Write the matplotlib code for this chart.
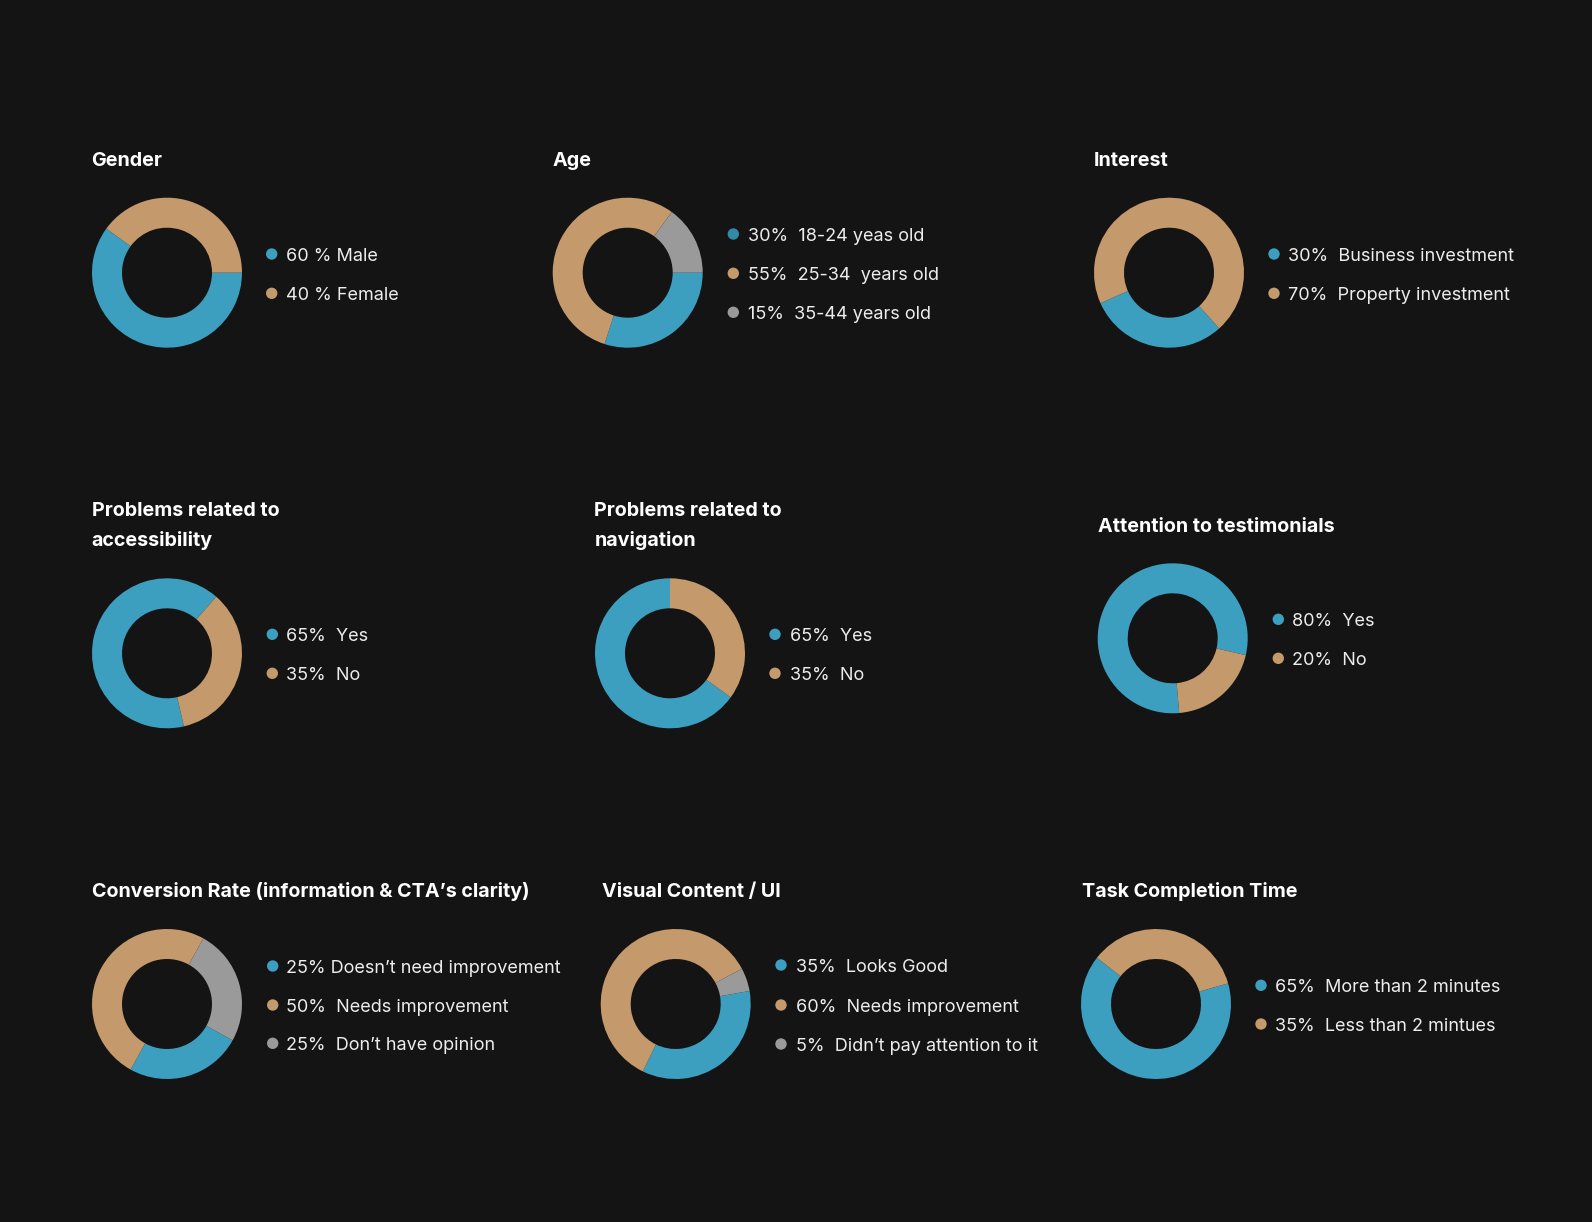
import matplotlib
matplotlib.use("Agg")
import matplotlib.pyplot as plt
from matplotlib.patches import Circle

W, H = 1592, 1222
BG = "#141414"
BLUE = "#3D9FBF"
TAN = "#C4996B"
GRAY = "#9A9A9A"
DBLUE = "#2F8BA6"

# ---- data ----
titles = [
    "Gender", "Age", "Interest",
    "Problems related to\naccessibility", "Problems related to\nnavigation",
    "Attention to testimonials",
    "Conversion Rate (information & CTA\u2019s clarity)", "Visual Content / UI",
    "Task Completion Time",
]
gender_values = [60, 40]
gender_labels = ["60 % Male", "40 % Female"]
age_values = [30, 55, 15]
age_labels = ["30%  18-24 yeas old", "55%  25-34  years old", "15%  35-44 years old"]
interest_values = [30, 70]
interest_labels = ["30%  Business investment", "70%  Property investment"]
access_values = [65, 35]
access_labels = ["65%  Yes", "35%  No"]
nav_values = [65, 35]
nav_labels = ["65%  Yes", "35%  No"]
testim_values = [80, 20]
testim_labels = ["80%  Yes", "20%  No"]
conv_values = [25, 50, 25]
conv_labels = ["25% Doesn\u2019t need improvement", "50%  Needs improvement", "25%  Don\u2019t have opinion"]
visual_values = [35, 60, 5]
visual_labels = ["35%  Looks Good", "60%  Needs improvement", "5%  Didn\u2019t pay attention to it"]
task_values = [65, 35]
task_labels = ["65%  More than 2 minutes", "35%  Less than 2 mintues"]

all_values = [gender_values, age_values, interest_values, access_values, nav_values,
              testim_values, conv_values, visual_values, task_values]
all_labels = [gender_labels, age_labels, interest_labels, access_labels, nav_labels,
              testim_labels, conv_labels, visual_labels, task_labels]

# ---- layout (pixel coordinates, y downward) ----
layout = [
    dict(c=(167, 272.7), sa=0, t=(91.5, 165.6), dx=271.7, dys=[254, 293.3], tx=286.0),
    dict(c=(627.7, 272.7), sa=0, t=(552.3, 165.8), dx=733.3, dys=[234, 273.3, 312.3], tx=747.5),
    dict(c=(1169, 272.7), sa=-48, t=(1094.0, 165.6), dx=1274, dys=[254, 293.3], tx=1287.5),
    dict(c=(167, 653.3), sa=-77, t=(91.5, 516.3), dx=272.3, dys=[634.3, 673.3], tx=286.0),
    dict(c=(670, 653.3), sa=-36, t=(594.5, 516.3), dx=775, dys=[634.3, 673.3], tx=789.5),
    dict(c=(1172.7, 638.3), sa=-85, t=(1098.0, 531.9), dx=1278.3, dys=[619.3, 658.3], tx=1292.0),
    dict(c=(167, 1004), sa=-29, t=(92.0, 896.9), dx=272.7, dys=[966, 1005, 1043.3], tx=286.5),
    dict(c=(675.7, 1004), sa=10, t=(601.5, 896.9), dx=781, dys=[965, 1005, 1044], tx=795.5),
    dict(c=(1156, 1004), sa=16, t=(1082.0, 896.9), dx=1261, dys=[985.3, 1024], tx=1275.0),
]

colors2 = [BLUE, TAN]
colors3 = [BLUE, TAN, GRAY]

fig = plt.figure(figsize=(W / 100, H / 100), dpi=100, facecolor=BG)
ax = fig.add_axes([0, 0, 1, 1])
ax.set_facecolor(BG)

R_OUT, RING = 75, 30
TFS = 14.2
LFS = 13.0
LINE_GAP = 30.2

for i, (vals, labs, lay) in enumerate(zip(all_values, all_labels, layout)):
    cols = colors3 if len(vals) == 3 else colors2
    cx, cy = lay["c"]
    ax.pie(vals, colors=cols, radius=R_OUT, center=(cx, H - cy),
           startangle=lay["sa"], counterclock=False,
           wedgeprops=dict(width=RING, linewidth=0, antialiased=True))
    # title
    tx, ty = lay["t"]
    for k, line in enumerate(titles[i].split("\n")):
        ax.text(tx, H - (ty + k * LINE_GAP), line, fontsize=TFS, fontweight="bold",
                color="#FFFFFF", family=["Inter", "DejaVu Sans"], va="baseline", ha="left")
    # legend
    for j, (lab, dy) in enumerate(zip(labs, lay["dys"])):
        dcol = cols[j]
        if i == 1 and j == 0:
            dcol = DBLUE
        ax.add_patch(Circle((lay["dx"], H - dy), 5.7, facecolor=dcol, edgecolor="none"))
        ax.text(lay["tx"], H - (dy + 6.6), lab, fontsize=LFS, color="#EDEDED",
                family=["Inter", "DejaVu Sans"], va="baseline", ha="left")

ax.set_xlim(0, W)
ax.set_ylim(0, H)
ax.set_aspect("equal")
ax.axis("off")
fig.savefig("out.png", dpi=100, facecolor=BG)
